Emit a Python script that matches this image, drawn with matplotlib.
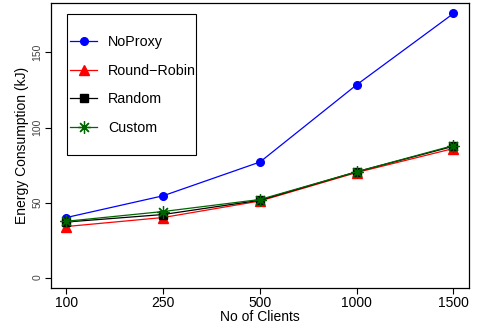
import matplotlib
matplotlib.use('Agg')
import matplotlib.pyplot as plt
from matplotlib.patches import Rectangle

plt.rcParams['font.family'] = ['Liberation Sans', 'DejaVu Sans']

# datos
clientes = ['100', '250', '500', '1000', '1500']
noproxy = [40, 54.5, 77, 128.5, 176]
round_robin = [34, 40, 51, 70, 86]
random_ = [37, 42, 51.5, 70.5, 87.5]
custom = [37.5, 44, 52, 70.5, 88]

x = list(range(1, len(clientes) + 1))

fig = plt.figure(figsize=(4.79, 3.25), dpi=100)
ax = fig.add_axes([0.1065, 0.1138, 0.8725, 0.877])

ax.plot(x, noproxy, color='blue', lw=0.9, marker='o', ms=5.5, label='NoProxy')
ax.plot(x, round_robin, color='red', lw=0.9, marker='^', ms=7, label='Round\u2212Robin')
ax.plot(x, random_, color='black', lw=0.9, marker='s', ms=6, label='Random')
ax.plot(x, custom, color='darkgreen', lw=0.9, marker=(8, 2, 0), ms=9, mew=0.9,
        label='Custom')

ax.set_xlim(0.84, 5.16)
ax.set_ylim(-7, 183)
ax.set_xticks(x)
ax.set_xticklabels(clientes, fontsize=10)
ax.set_yticks([0, 50, 100, 150])
ax.set_yticklabels(['0', '50', '100', '150'], fontsize=7.5, rotation=90,
                   va='center', color='#444444')
ax.tick_params(direction='out', length=4, width=0.8)
ax.tick_params(axis='x', pad=2)
ax.tick_params(axis='y', pad=2)
for s in ax.spines.values():
    s.set_linewidth(0.9)

ax.set_xlabel('No of Clients', fontsize=10, labelpad=0)
ax.set_ylabel('Energy Consumption (kJ)', fontsize=10, labelpad=3)

# leyenda con recuadro propio
ax.add_patch(Rectangle((0.038, 0.467), 0.309, 0.494, transform=ax.transAxes,
                       fill=False, lw=0.8, ec='black', zorder=5))
leg = ax.legend(loc='upper left', bbox_to_anchor=(0.043, 0.893), frameon=False,
                fontsize=10.3, handlelength=1.85, handletextpad=0.8,
                labelspacing=1.03, borderpad=0.1, borderaxespad=0)

fig.savefig('out.png', dpi=100)
